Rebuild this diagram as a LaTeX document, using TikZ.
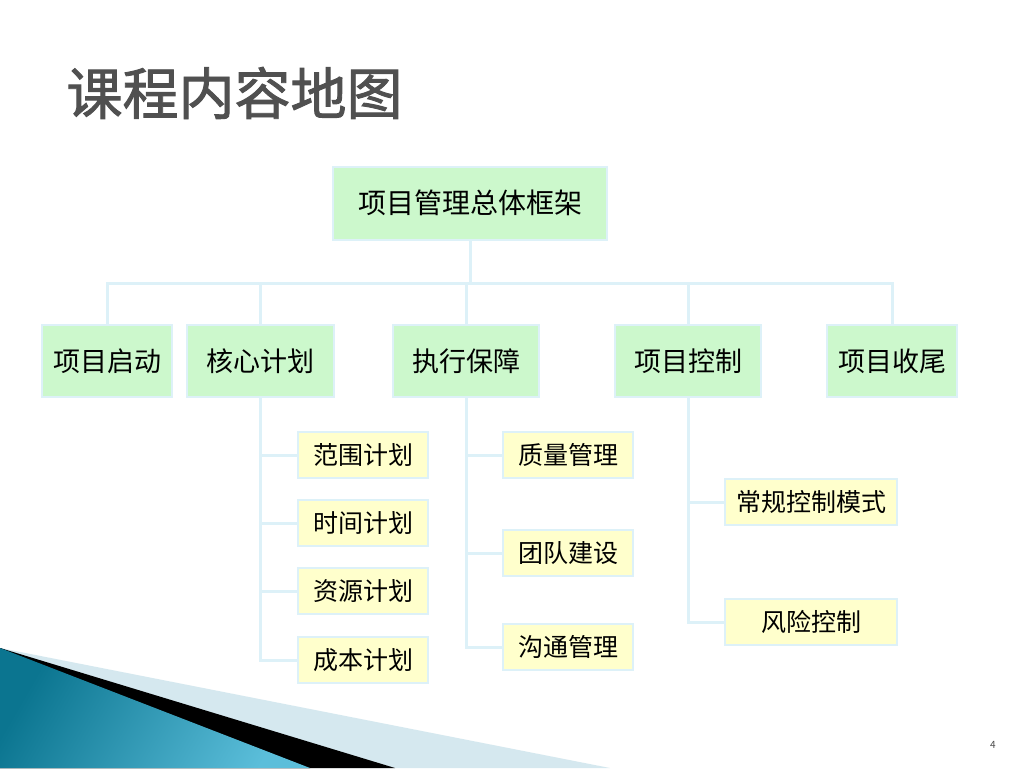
\documentclass[tikz,border=0pt]{standalone}
\usepackage{fontspec}
\usepackage{xcolor}
\setmainfont{Noto Sans CJK SC}
\newfontfamily\cjk{Noto Sans CJK SC}
\newfontfamily\cjktitle[FakeBold=1.6]{Noto Sans CJK SC}
\definecolor{linecyan}{HTML}{DDF1F8}
\definecolor{boxgreen}{HTML}{CCF8CC}
\definecolor{boxyellow}{HTML}{FFFFCC}
\definecolor{titlegray}{HTML}{505050}
\definecolor{tealdark}{HTML}{0B7590}
\definecolor{teallight}{HTML}{5BBEDA}
\definecolor{paleblue}{HTML}{D5E8EF}
\usetikzlibrary{positioning, calc}

\begin{document}
\begin{tikzpicture}[
			x=1pt, y=-1pt,
			% --- Styles ---
			rootbox/.style={
				rectangle, draw=linecyan, line width=2pt, fill=boxgreen,
				minimum width=274pt, minimum height=73pt, inner sep=0pt,
				font=\cjk\fontsize{28}{32}\selectfont
			},
			topbox/.style={
				rectangle, draw=linecyan, line width=2pt, fill=boxgreen,
				minimum height=72pt, inner sep=0pt,
				font=\cjk\fontsize{27}{31}\selectfont
			},
			subbox/.style={
				rectangle, draw=linecyan, line width=2pt, fill=boxyellow,
				minimum width=130pt, minimum height=46pt, inner sep=0pt,
				font=\cjk\fontsize{25}{29}\selectfont
			},
			conn/.style={
				draw=linecyan, line width=3pt
			}
			]
			
			% --- Page frame ---
			\useasboundingbox (0,0) rectangle (1024,768);
			\fill[white] (0,0) rectangle (1024,768);
			
			% --- Title ---
			\node[anchor=west, text=titlegray, font=\cjktitle\fontsize{56}{60}\selectfont] (title) at (63,93) {课程内容地图};
			
			% --- Root ---
			\node[rootbox] (frame) at (470,203) {项目管理总体框架};
			
			% --- Level 1 ---
			\node[topbox, minimum width=130pt] (start) at (107,361) {项目启动};
			\node[topbox, minimum width=147pt] (plan) at (260,361) {核心计划};
			\node[topbox, minimum width=146pt] (exec) at (466,361) {执行保障};
			\node[topbox, minimum width=146pt] (ctrl) at (688,361) {项目控制};
			\node[topbox, minimum width=130pt] (close) at (892,361) {项目收尾};
			
			% --- Level 2: plan ---
			\node[subbox] (scope) at (363,455) {范围计划};
			\node[subbox] (time) at (363,523) {时间计划};
			\node[subbox] (res) at (363,591) {资源计划};
			\node[subbox] (cost) at (363,660) {成本计划};
			
			% --- Level 2: exec ---
			\node[subbox] (quality) at (568,455) {质量管理};
			\node[subbox] (team) at (568,553) {团队建设};
			\node[subbox] (comm) at (568,647) {沟通管理};
			
			% --- Level 2: ctrl ---
			\node[subbox, minimum width=172pt] (routine) at (811,502) {常规控制模式};
			\node[subbox, minimum width=172pt] (risk) at (811,622) {风险控制};
			
			% --- Connectors ---
			\coordinate (bus) at (470,283);
			\draw[conn] (frame.south) -- (bus);
			\foreach \n in {start, plan, exec, ctrl, close}
				\draw[conn] (bus) -| (\n.north);
			\foreach \n in {scope, time, res, cost}
				\draw[conn] (plan.south) |- (\n.west);
			\foreach \n in {quality, team, comm}
				\draw[conn] (exec.south) |- (\n.west);
			\foreach \n in {routine, risk}
				\draw[conn] (ctrl.south) |- (\n.west);
			
			% --- Corner decoration ---
			\fill[paleblue] (0,648) -- (610,768) -- (0,768) -- cycle;
			\fill[black] (0,648) -- (395,768) -- (0,768) -- cycle;
			\fill[left color=tealdark, right color=teallight, shading angle=60] (0,648) -- (310,768) -- (0,768) -- cycle;
			
			% --- Page number ---
			\node[font=\fontsize{10}{12}\selectfont, text=black!70] (pagenum) at (993,745) {4};
			
		\end{tikzpicture}
\end{document}
